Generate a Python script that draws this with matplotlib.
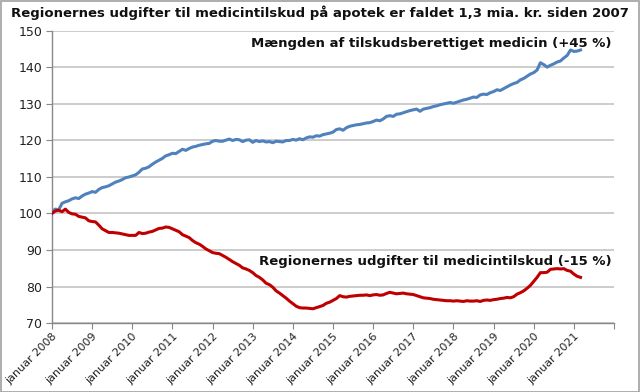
import matplotlib
matplotlib.use("Agg")
import matplotlib.pyplot as plt
from matplotlib.patches import Rectangle
import numpy as np

year_labels = ["januar %d" % y for y in range(2008, 2022)]

maengde = [
    100.5, 101.2, 101.0, 102.8, 103.2, 103.5, 104.0, 104.3, 104.1, 104.8, 105.3, 105.6,
    106.0, 105.8, 106.6, 107.1, 107.3, 107.6, 108.1, 108.6, 108.9, 109.3, 109.8, 110.0,
    110.3, 110.6, 111.3, 112.2, 112.4, 112.8, 113.5, 114.1, 114.6, 115.1, 115.8, 116.1,
    116.5, 116.4, 117.0, 117.6, 117.3, 117.8, 118.2, 118.4, 118.7, 118.9, 119.1, 119.2,
    119.8, 120.0, 119.8, 119.8, 120.1, 120.4, 120.0, 120.3, 120.2, 119.7, 120.1, 120.2,
    119.5, 120.0, 119.7, 119.9, 119.6, 119.7, 119.4, 119.8, 119.7, 119.6, 120.0, 120.0,
    120.3, 120.1, 120.5, 120.2, 120.7, 121.0, 120.9, 121.3, 121.2, 121.6, 121.8, 122.0,
    122.3, 123.0, 123.2, 122.8, 123.5, 123.9, 124.1, 124.3, 124.4, 124.6, 124.8, 124.9,
    125.2, 125.6, 125.4, 125.9, 126.6, 126.8, 126.6, 127.2, 127.3, 127.6, 127.9, 128.2,
    128.4, 128.6, 128.0, 128.6, 128.8, 129.0, 129.3, 129.5, 129.8, 130.0, 130.2, 130.4,
    130.2, 130.5, 130.8, 131.1, 131.3, 131.6, 131.9, 131.8, 132.5, 132.7, 132.6, 133.1,
    133.4, 133.9, 133.7, 134.2, 134.7, 135.2, 135.6, 135.9, 136.6, 137.0, 137.6, 138.2,
    138.6, 139.3, 141.3, 140.8, 140.1, 140.6, 141.0, 141.5, 141.8, 142.6, 143.3, 144.8,
    144.4, 144.5, 144.8,
]

udgifter = [
    100.0, 100.7, 100.9, 100.5, 101.2, 100.3, 99.9, 99.8, 99.2, 99.0, 98.8, 98.0,
    97.8, 97.7, 96.8, 95.8, 95.3, 94.8, 94.8, 94.7, 94.6, 94.4, 94.2, 94.0,
    94.0, 94.0, 94.8, 94.5, 94.6, 94.9, 95.1, 95.5, 95.9, 96.0, 96.3, 96.2,
    95.8, 95.4, 95.0, 94.2, 93.8, 93.4, 92.6, 92.0, 91.6, 91.0, 90.3, 89.8,
    89.3, 89.1, 89.0, 88.5, 88.0, 87.4, 86.8, 86.3, 85.8, 85.1, 84.8, 84.4,
    83.8, 83.0, 82.5, 81.8, 80.9, 80.5, 79.8, 78.8, 78.2, 77.5, 76.8, 76.0,
    75.3, 74.6, 74.2, 74.1, 74.1, 74.0, 73.9, 74.2, 74.5, 74.8, 75.4, 75.7,
    76.2, 76.7, 77.5, 77.2, 77.1, 77.3, 77.4, 77.5, 77.6, 77.6, 77.7, 77.5,
    77.7, 77.8, 77.6, 77.7, 78.1, 78.4, 78.2, 78.0, 78.1, 78.2, 78.0, 77.9,
    77.8, 77.5, 77.2, 76.9, 76.8, 76.7, 76.5, 76.4, 76.3, 76.2, 76.1, 76.1,
    76.0, 76.1, 76.0, 75.9, 76.1, 76.0, 76.0, 76.1, 75.9, 76.2, 76.3, 76.2,
    76.4, 76.5, 76.7, 76.8, 77.0, 76.9, 77.2, 77.9, 78.3, 78.8, 79.5, 80.3,
    81.4, 82.5, 83.8, 83.8, 83.9, 84.7, 84.8, 84.9, 84.8, 84.9, 84.4, 84.2,
    83.4, 82.8, 82.5,
]

title = "Regionernes udgifter til medicintilskud på apotek er faldet 1,3 mia. kr. siden 2007"
label_blue = "Mængden af tilskudsberettiget medicin (+45 %)"
label_red = "Regionernes udgifter til medicintilskud (-15 %)"

fig = plt.figure(figsize=(6.4, 3.92), dpi=100)
ax = fig.add_axes([52/640, 1-323/392, (614-52)/640, (323-31)/392])

x_b = np.arange(len(maengde))
x_r = np.arange(len(udgifter))
ax.plot(x_b, maengde, color="#4F81BD", lw=2.2, solid_joinstyle="round", zorder=3)
ax.plot(x_r, udgifter, color="#C00000", lw=2.2, solid_joinstyle="round", zorder=3)

ax.set_xlim(0, 168)
ax.set_ylim(70, 150)
ax.set_yticks(range(70, 151, 10))
ax.set_xticks(np.arange(0, 169, 12))
ax.set_xticklabels(year_labels + [""], rotation=45, ha="right", rotation_mode="anchor")
ax.tick_params(axis="x", length=4, color="#888888", labelsize=8, labelcolor="#222222", pad=2)
ax.tick_params(axis="y", length=4, color="#888888", labelsize=9, labelcolor="#222222", pad=3)
ax.grid(axis="y", color="#C8C8C8", lw=1.3)
ax.set_axisbelow(True)
for s in ["top", "right"]:
    ax.spines[s].set_visible(False)
for s in ["left", "bottom"]:
    ax.spines[s].set_color("#888888")
    ax.spines[s].set_linewidth(1.0)

ax.text(0.995, 0.958, label_blue, transform=ax.transAxes, ha="right", va="center",
        fontsize=9.5, fontweight="bold", color="#111111")
ax.text(0.995, 0.212, label_red, transform=ax.transAxes, ha="right", va="center",
        fontsize=9.5, fontweight="bold", color="#111111")
fig.text(320/640, 1-13/392, title, ha="center", va="center", fontsize=9.5,
         fontweight="bold", color="#111111")

fig.patches.append(Rectangle((0.001, 0.001), 0.997, 0.997, transform=fig.transFigure,
                             fill=False, edgecolor="#A0A0A0", lw=1.2))

fig.savefig("out.png", dpi=100)
